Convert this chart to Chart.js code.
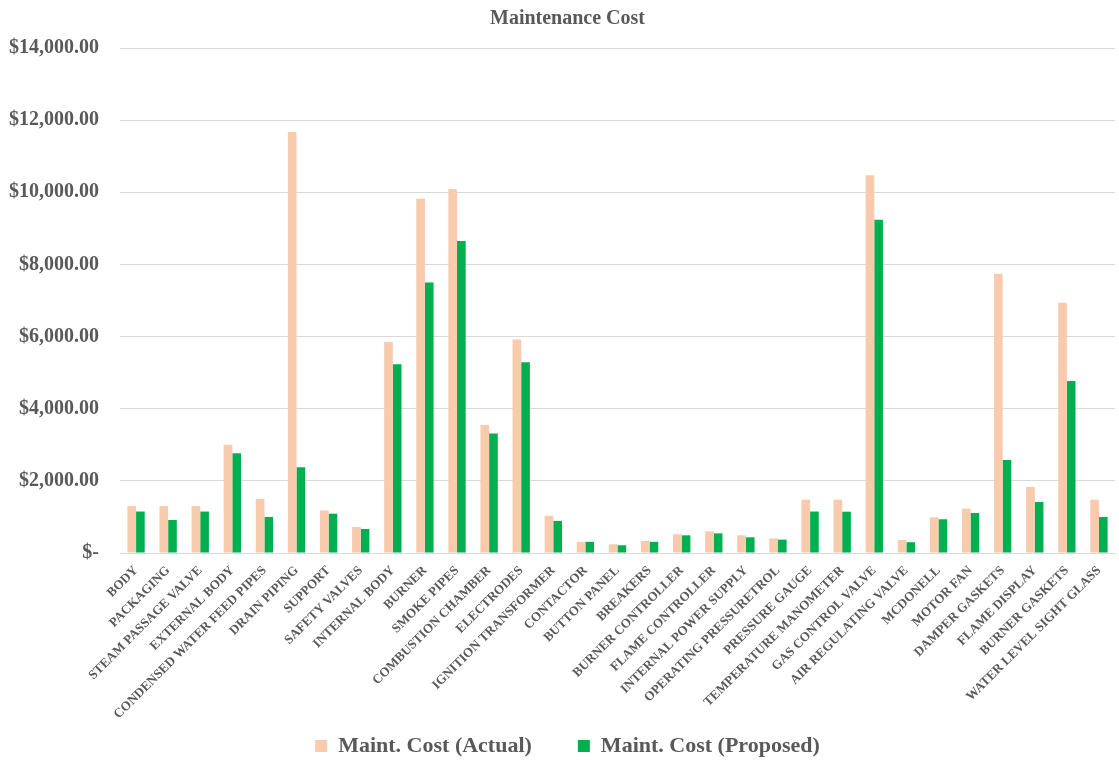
<!DOCTYPE html>
<html>
<head>
<meta charset="utf-8">
<script src="https://cdn.jsdelivr.net/npm/chart.js@4"></script>
<style>
  html, body { margin: 0; padding: 0; background: #fff; }
  #wrap { width: 1119px; height: 760px; }
</style>
</head>
<body>
<div id="wrap"><canvas id="costChart" width="1119" height="760"></canvas></div>
<script>
var parts = ['BODY', 'PACKAGING', 'STEAM PASSAGE VALVE', 'EXTERNAL BODY', 'CONDENSED WATER FEED PIPES',
	'DRAIN PIPING', 'SUPPORT', 'SAFETY VALVES', 'INTERNAL BODY', 'BURNER', 'SMOKE PIPES',
	'COMBUSTION CHAMBER', 'ELECTRODES', 'IGNITION TRANSFORMER', 'CONTACTOR', 'BUTTON PANEL',
	'BREAKERS', 'BURNER CONTROLLER', 'FLAME CONTROLLER', 'INTERNAL POWER SUPPLY',
	'OPERATING PRESSURETROL', 'PRESSURE GAUGE', 'TEMPERATURE MANOMETER', 'GAS CONTROL VALVE',
	'AIR REGULATING VALVE', 'MCDONELL', 'MOTOR FAN', 'DAMPER GASKETS', 'FLAME DISPLAY',
	'BURNER GASKETS', 'WATER LEVEL SIGHT GLASS'];

var costActual = [1300, 1300, 1300, 3000, 1500, 11670, 1180, 720, 5850, 9820, 10090,
	3550, 5920, 1035, 310, 240, 335, 520, 600, 490, 405, 1480, 1480, 10470,
	360, 990, 1230, 7740, 1830, 6935, 1480];

var costProposed = [1150, 915, 1150, 2765, 1000, 2380, 1090, 665, 5230, 7500, 8650,
	3310, 5290, 890, 310, 215, 310, 490, 545, 435, 370, 1150, 1145, 9240,
	300, 935, 1110, 2580, 1415, 4770, 1000];

var yTicks = [0, 2000, 4000, 6000, 8000, 10000, 12000, 14000];

var grey = '#595959';
var serif = "'Liberation Serif', 'Times New Roman', serif";

function money(v){
	if (v === 0) return '$-';
	return '$' + v.toLocaleString('en-US', {minimumFractionDigits: 2, maximumFractionDigits: 2});
}

// chart.js clips tick labels to the scale box, let the long rotated names run down to the legend
var unclipLabels = {
	id: 'unclipLabels',
	afterLayout: function(chart){
		chart.scales.x.bottom = chart.height;
		chart.scales.y.left = 0;
	}
};

var ctx = document.getElementById('costChart').getContext('2d');
new Chart(ctx, {
	type: 'bar',
	data: {
		labels: parts,
		datasets: [{
			label: 'Maint. Cost (Actual)',
			backgroundColor: '#F8CBAD',
			data: costActual
		}, {
			label: 'Maint. Cost (Proposed)',
			backgroundColor: '#00B050',
			data: costProposed
		}]
	},
	plugins: [unclipLabels],
	options: {
		responsive: false,
		animation: false,
		layout: {padding: {left: 20, right: 4, top: 0, bottom: -7}},
		datasets: {bar: {categoryPercentage: 0.54, barPercentage: 1.0}},
		plugins: {
			title: {
				display: true,
				text: 'Maintenance Cost',
				color: grey,
				font: {family: serif, size: 20, weight: 'bold'},
				padding: {top: 7, bottom: 17}
			},
			legend: {
				position: 'bottom',
				labels: {
					color: grey,
					font: {family: serif, size: 22, weight: 'bold'},
					boxWidth: 12,
					boxHeight: 12,
					padding: 46
				}
			},
			tooltip: {enabled: false}
		},
		scales: {
			x: {
				grid: {display: false},
				border: {color: '#D9D9D9'},
				ticks: {
					color: grey,
					font: {family: serif, size: 13, weight: 'bold'},
					minRotation: 45,
					maxRotation: 45,
					autoSkip: false,
					padding: 2
				},
				afterFit: function(scale){ scale.height = 136; }
			},
			y: {
				min: 0,
				max: 14000,
				afterBuildTicks: function(scale){
					scale.ticks = yTicks.map(v => ({value: v}));
				},
				grid: {color: '#D9D9D9', drawTicks: false},
				border: {display: false},
				ticks: {
					color: grey,
					font: {family: serif, size: 20, weight: 'bold'},
					padding: 21,
					callback: function(v){ return money(v); }
				},
				afterFit: function(scale){ scale.width = 100; }
			}
		}
	}
});
</script>
</body>
</html>
